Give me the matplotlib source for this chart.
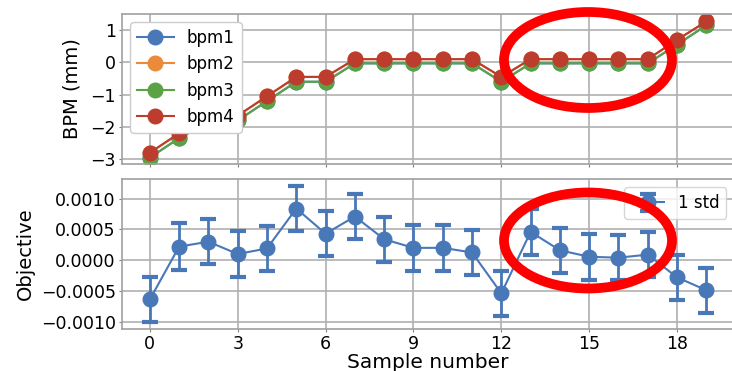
import matplotlib
matplotlib.use('Agg')
import matplotlib.pyplot as plt
from matplotlib.patches import Ellipse

# data
samples = list(range(20))
bpm1 = [-2.95, -2.35, -1.85, -1.8, -1.2, -0.6, -0.6, -0.03, -0.03, -0.03, -0.03, -0.03,
        -0.6, -0.03, -0.03, -0.03, -0.03, -0.03, 0.55, 1.15]
bpm2 = [-2.8, -2.2, -1.7, -1.65, -1.05, -0.45, -0.45, 0.1, 0.1, 0.1, 0.1, 0.1,
        -0.45, 0.1, 0.1, 0.1, 0.1, 0.1, 0.7, 1.27]
bpm3 = [-2.95, -2.35, -1.85, -1.8, -1.2, -0.6, -0.6, -0.03, -0.03, -0.03, -0.03, -0.03,
        -0.6, -0.03, -0.03, -0.03, -0.03, -0.03, 0.55, 1.15]
bpm4 = [-2.8, -2.2, -1.7, -1.65, -1.05, -0.45, -0.45, 0.1, 0.1, 0.1, 0.1, 0.1,
        -0.45, 0.1, 0.1, 0.1, 0.1, 0.1, 0.7, 1.27]
objective = [-0.00064, 0.00022, 0.00030, 0.00010, 0.00019, 0.00084, 0.00043, 0.00071,
             0.00034, 0.00020, 0.00020, 0.000125, -0.00054, 0.00046, 0.00016, 0.000055,
             0.00004, 0.00009, -0.00028, -0.00049]
obj_std = [0.00037, 0.00038, 0.00037, 0.00037, 0.00037, 0.00037, 0.00037, 0.00037,
           0.00037, 0.00037, 0.00037, 0.00037, 0.00037, 0.00037, 0.00037, 0.00037,
           0.00037, 0.00037, 0.00037, 0.00037]

colors = ['#4878B8', '#EA8A3A', '#5BA245', '#BC3C2E']

plt.rcParams['font.family'] = ['DejaVu Sans']
fig = plt.figure(figsize=(7.32, 3.71), dpi=100)
ax1 = fig.add_axes([122 / 732, 1 - 164 / 371, 1 - 122 / 732 + 0.003, 150 / 371])
ax2 = fig.add_axes([122 / 732, 1 - 329 / 371, 1 - 122 / 732 + 0.003, 150 / 371], sharex=ax1)

for name, vals, c in zip(['bpm1', 'bpm2', 'bpm3', 'bpm4'], [bpm1, bpm2, bpm3, bpm4], colors):
    ax1.plot(samples, vals, '-o', color=c, ms=10.5, lw=1.5, label=name)
ax1.set_ylabel('BPM (mm)', fontsize=14, labelpad=6)
ax1.set_ylim(-3.15, 1.5)
ax1.set_yticks([-3, -2, -1, 0, 1])
ax1.legend(loc='upper left', fontsize=12, handlelength=2.2, borderaxespad=0.5, framealpha=1)
plt.setp(ax1.get_xticklabels(), visible=False)

ax2.errorbar(samples, objective, yerr=obj_std, fmt='-o', color=colors[0], ms=10.5, lw=1.5,
             elinewidth=2, capsize=6, capthick=3, label='1 std')
ax2.set_ylabel('Objective', fontsize=14, labelpad=4)
ax2.set_xlabel('Sample number', fontsize=14.5, labelpad=0)
ax2.set_ylim(-0.00112, 0.00132)
ax2.set_yticks([-0.001, -0.0005, 0, 0.0005, 0.001])
ax2.set_yticklabels(['\u22120.0010', '\u22120.0005', '0.0000', '0.0005', '0.0010'])
ax2.legend(loc='upper right', fontsize=12)
ax2.set_xlim(-0.95, 19.95)
ax2.set_xticks([0, 3, 6, 9, 12, 15, 18])

for ax in (ax1, ax2):
    ax.grid(True, color='#b0b0b0', lw=1.2)
    ax.set_axisbelow(True)
    ax.tick_params(labelsize=12.5, color='#808080', length=2.5, pad=2)
    for s in ax.spines.values():
        s.set_color('#a0a0a0')
        s.set_linewidth(1.2)

# red highlight ellipses
for cy in (60, 240.5):
    fig.add_artist(Ellipse((588 / 732, 1 - cy / 371), 168 / 732, 96 / 371,
                           transform=fig.transFigure, fill=False, ec='red', lw=7, zorder=10))

fig.savefig('out.png', dpi=100)
